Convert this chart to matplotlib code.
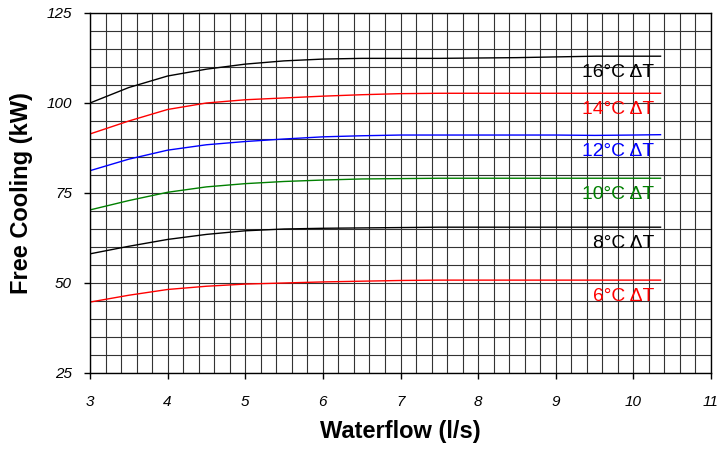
import numpy as np
import matplotlib
matplotlib.use("Agg")
import matplotlib.pyplot as plt
from matplotlib.ticker import MultipleLocator

plt.rcParams['font.family'] = ['Liberation Sans', 'DejaVu Sans']

# Waterflow points (l/s)
flow = [3, 3.5, 4, 4.5, 5, 5.5, 6, 6.5, 7, 7.5, 8, 8.5, 9, 9.5, 10, 10.35]

# Free cooling (kW) per delta T
dt16 = [100, 104.3, 107.5, 109.4, 110.8, 111.7, 112.2, 112.4, 112.4, 112.4, 112.5, 112.6, 112.8, 113.0, 113.0, 113.0]
dt14 = [91.4, 95.0, 98.2, 100.0, 100.9, 101.4, 101.9, 102.3, 102.6, 102.7, 102.7, 102.7, 102.7, 102.7, 102.7, 102.7]
dt12 = [81.2, 84.4, 86.9, 88.4, 89.3, 90.0, 90.6, 90.9, 91.1, 91.1, 91.1, 91.1, 91.1, 91.0, 91.1, 91.2]
dt10 = [70.3, 72.9, 75.2, 76.7, 77.6, 78.2, 78.6, 78.9, 79.0, 79.1, 79.1, 79.1, 79.1, 79.1, 79.1, 79.1]
dt8 = [58.1, 60.2, 62.1, 63.5, 64.5, 65.0, 65.2, 65.3, 65.4, 65.5, 65.5, 65.5, 65.5, 65.5, 65.5, 65.5]
dt6 = [44.7, 46.6, 48.2, 49.1, 49.7, 50.0, 50.3, 50.5, 50.7, 50.8, 50.8, 50.8, 50.8, 50.8, 50.8, 50.8]

series = [dt16, dt14, dt12, dt10, dt8, dt6]
labels = ["16°C ΔT", "14°C ΔT", "12°C ΔT", "10°C ΔT", "8°C ΔT", "6°C ΔT"]
colors = ["black", "#ff0000", "#0000ff", "#008000", "black", "#ff0000"]

fig = plt.figure(figsize=(7.25, 4.5), dpi=100)
ax = fig.add_axes([90/725, 77/450, 621/725, 360/450])

ax.set_xlim(3, 11)
ax.set_ylim(25, 125)
ax.xaxis.set_major_locator(MultipleLocator(1))
ax.xaxis.set_minor_locator(MultipleLocator(0.2))
ax.yaxis.set_major_locator(MultipleLocator(25))
ax.yaxis.set_minor_locator(MultipleLocator(5))
ax.grid(True, which='both', color='#333333', linewidth=0.8)
ax.set_axisbelow(True)

for vals, lab, col in zip(series, labels, colors):
    ax.plot(flow, vals, color=col, linewidth=1.0)
    ax.text(10.27, vals[-1] - 4.6, lab, color=col, fontsize=13.9,
            ha='right', va='center')

ax.tick_params(which='major', direction='out', length=4, width=1, labelsize=11, pad=9)
ax.tick_params(which='minor', length=0)
ax.tick_params(axis='x', pad=12)
for lbl in ax.get_xticklabels() + ax.get_yticklabels():
    lbl.set_fontstyle('italic')
for sp in ax.spines.values():
    sp.set_color('black')
    sp.set_linewidth(1.0)

ax.set_xlabel("Waterflow (l/s)", fontsize=17, fontweight='bold', labelpad=8)
ax.set_ylabel("Free Cooling (kW)", fontsize=17, fontweight='bold', labelpad=10)

fig.savefig("out.png", dpi=100)
